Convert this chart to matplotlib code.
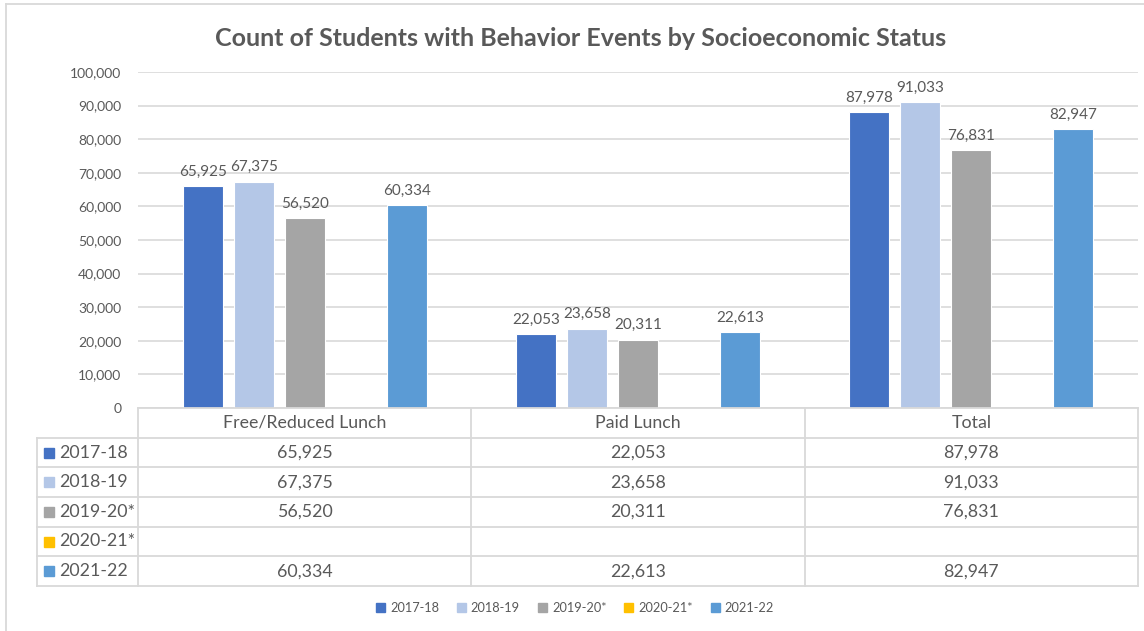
import numpy as np
import matplotlib
matplotlib.use('Agg')
from matplotlib import pyplot as plt
from matplotlib.lines import Line2D

categories = ['Free/Reduced Lunch', 'Paid Lunch', 'Total']
years = ['2017-18', '2018-19', '2019-20*', '2020-21*', '2021-22']
colors = ['#4472C4', '#B4C7E7', '#A5A5A5', '#FFC000', '#5B9BD5']

counts_1718 = [65925, 22053, 87978]
counts_1819 = [67375, 23658, 91033]
counts_1920 = [56520, 20311, 76831]
counts_2021 = [None, None, None]
counts_2122 = [60334, 22613, 82947]
series = [counts_1718, counts_1819, counts_1920, counts_2021, counts_2122]

W, H = 1144, 631
TEXT = '#595959'
GRID = '#D9D9D9'
plt.rcParams['font.family'] = ['Lato', 'DejaVu Sans']

fig = plt.figure(figsize=(W / 100, H / 100), dpi=100)

# plot area in pixel terms
x0, x1 = 138, 1138
y_top, y_zero = 72, 408
ax = fig.add_axes([x0 / W, 1 - y_zero / H, (x1 - x0) / W, (y_zero - y_top) / H])

n = len(categories)
step = 51 / ((x1 - x0) / n)
width = 40 / ((x1 - x0) / n)
x = np.arange(n)
for i, (vals, c) in enumerate(zip(series, colors)):
    pos = x + (i - 2) * step
    for p, v in zip(pos, vals):
        if v is None:
            continue
        ax.bar(p, v, width=width, color=c, edgecolor='white', linewidth=0.8, zorder=3)
        ax.text(p, v + 2200, '{:,}'.format(v), ha='center', va='bottom',
                fontsize=11, color=TEXT)

ax.set_xlim(-0.5, n - 0.5)
ax.set_ylim(0, 100000)
ax.set_yticks(np.arange(0, 100001, 10000))
ax.set_yticklabels(['{:,}'.format(t) for t in range(0, 100001, 10000)])
ax.tick_params(axis='y', length=0, labelsize=10, labelcolor=TEXT, pad=12)
ax.set_xticks([])
ax.grid(axis='y', color=GRID, linewidth=1.2, zorder=0)
for s in ax.spines.values():
    s.set_visible(False)

fig.text(581 / W, 1 - 38 / H, 'Count of Students with Behavior Events by Socioeconomic Status',
         ha='center', va='center', fontsize=18, fontweight='bold', color=TEXT)

# data table underneath, drawn on a pixel-space overlay
tab = fig.add_axes([0, 0, 1, 1])
tab.set_xlim(0, W)
tab.set_ylim(H, 0)
tab.axis('off')
tab.patch.set_alpha(0)

left = 37
row_h = (586 - 408) / (len(years) + 1)
col_w = (x1 - x0) / n
rows_y = [408 + k * row_h for k in range(len(years) + 2)]

lc = dict(color=GRID, linewidth=1.3)
tab.add_line(Line2D([x0, x1], [rows_y[0]] * 2, **lc))
for yy in rows_y[1:]:
    tab.add_line(Line2D([left, x1], [yy] * 2, **lc))
tab.add_line(Line2D([left, left], [rows_y[1], rows_y[-1]], **lc))
for k in range(n + 1):
    xx = x0 + k * col_w
    tab.add_line(Line2D([xx, xx], [rows_y[0], rows_y[-1]], **lc))

for k, cat in enumerate(categories):
    tab.text(x0 + (k + 0.5) * col_w, (rows_y[0] + rows_y[1]) / 2, cat,
             ha='center', va='center', fontsize=12.8, color=TEXT)

for r, (yr, vals, c) in enumerate(zip(years, series, colors)):
    yc = (rows_y[r + 1] + rows_y[r + 2]) / 2
    tab.add_patch(plt.Rectangle((44, yc - 5), 10, 10, color=c))
    tab.text(59, yc, yr, ha='left', va='center', fontsize=12.8, color=TEXT)
    for k, v in enumerate(vals):
        if v is None:
            continue
        tab.text(x0 + (k + 0.5) * col_w, yc, '{:,}'.format(v),
                 ha='center', va='center', fontsize=12.8, color=TEXT)

# chart frame (left and top edges fall inside the image)
tab.add_line(Line2D([6, 6], [4, H], color=GRID, linewidth=1.3))
tab.add_line(Line2D([6, W], [4, 4], color=GRID, linewidth=1.3))

handles = [plt.Rectangle((0, 0), 1, 1, color=c) for c in colors]
fig.legend(handles, years, loc='center', bbox_to_anchor=(575 / W, 1 - 608 / H),
           ncol=len(years), frameon=False, fontsize=9.2, labelcolor=TEXT,
           handlelength=0.7, handleheight=0.7, handletextpad=0.4, columnspacing=1.4)

fig.savefig('out.png', dpi=100)
